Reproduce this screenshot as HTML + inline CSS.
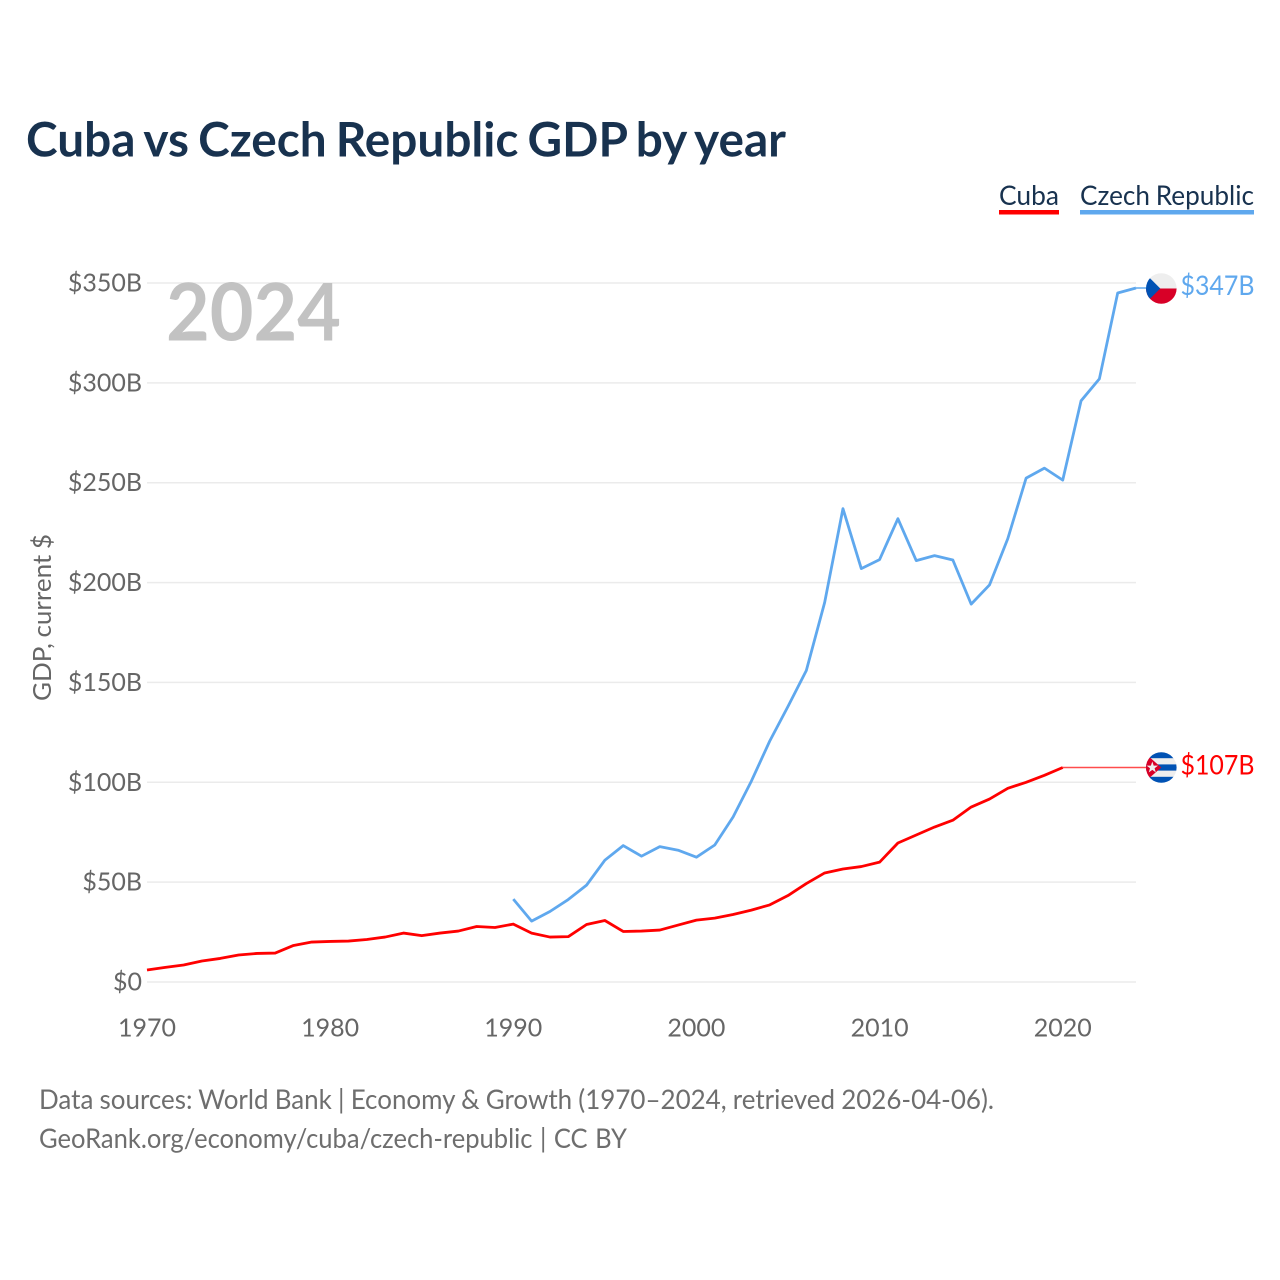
<!DOCTYPE html>
<html lang="en">
<head>
<meta charset="utf-8">
<title>Cuba vs Czech Republic GDP by year</title>
<style>
html,body{margin:0;padding:0;background:#fff;}
svg{display:block;}
text{font-family:"Lato","Carlito","Liberation Sans",sans-serif;}
</style>
</head>
<body>
<svg id="chart" xmlns="http://www.w3.org/2000/svg" width="1280" height="1280" viewBox="0 0 1280 1280">
  <defs>
    <clipPath id="flag-clip"><circle cx="0" cy="0" r="15.3"></circle></clipPath>
  </defs>
  <rect x="0" y="0" width="1280" height="1280" fill="#fff"></rect>
  <text x="26" y="156.5" font-size="47.5" font-weight="700" fill="#18324f" word-spacing="-2.5" textLength="760" lengthAdjust="spacingAndGlyphs">Cuba vs Czech Republic GDP by year</text>

  <g>
    <g>
      <text x="999" y="205" font-size="27" fill="#18324f" textLength="60" lengthAdjust="spacingAndGlyphs">Cuba</text>
      <rect x="999" y="210" width="60" height="4.5" fill="#ff0000"></rect>
    </g>
    <g>
      <text x="1080" y="205" font-size="27" fill="#18324f" word-spacing="-1" textLength="174" lengthAdjust="spacingAndGlyphs">Czech Republic</text>
      <rect x="1080" y="210" width="174" height="4.5" fill="#5fa8ee"></rect>
    </g>
  </g>

  <g id="grid"></g>
  <g id="yticks"></g>
  <g id="xticks"></g>

  <text transform="translate(51 701) rotate(-90)" x="0" y="0" font-size="25" fill="#666" word-spacing="-1" textLength="167" lengthAdjust="spacingAndGlyphs">GDP, current $</text>
  <text x="166" y="340.5" font-size="80" font-weight="700" fill="#c2c2c2" textLength="175" lengthAdjust="spacingAndGlyphs">2024</text>

  <g id="series"></g>

  <g id="flag-czech">
    <g clip-path="url(#flag-clip)">
      <rect x="-16" y="-16" width="32" height="16" fill="#eeeeee"></rect>
      <rect x="-16" y="0" width="32" height="16" fill="#d80027"></rect>
      <polygon points="-17,-16 -1,0 -17,16" fill="#0052b4"></polygon>
    </g>
  </g>
  <g id="flag-cuba">
    <g clip-path="url(#flag-clip)">
      <rect x="-16" y="-16" width="32" height="32" fill="#eeeeee"></rect>
      <rect x="-16" y="-16" width="32" height="6.7" fill="#0052b4"></rect>
      <rect x="-16" y="-3.1" width="32" height="6.2" fill="#0052b4"></rect>
      <rect x="-16" y="9.3" width="32" height="6.7" fill="#0052b4"></rect>
      <polygon points="-16,-14 0,0 -16,14" fill="#d80027"></polygon>
      <polygon points="-9,-6 -7.6,-1.9 -3.3,-1.9 -6.7,0.7 -5.5,4.9 -9,2.4 -12.5,4.9 -11.3,0.7 -14.7,-1.9 -10.4,-1.9" fill="#eeeeee"></polygon>
    </g>
  </g>

  <text id="label-czech" x="1180.5" y="295" font-size="27" fill="#5fa8ee" textLength="74" lengthAdjust="spacingAndGlyphs">$347B</text>
  <text id="label-cuba" x="1180.5" y="774" font-size="27" fill="#ff0000" textLength="74" lengthAdjust="spacingAndGlyphs">$107B</text>

  <text x="39" y="1109" font-size="27" fill="#6e6e6e" word-spacing="-0.5" textLength="955" lengthAdjust="spacingAndGlyphs">Data sources: World Bank | Economy &amp; Growth (1970–2024, retrieved 2026-04-06).</text>
  <text x="39" y="1148" font-size="27" fill="#6e6e6e" word-spacing="1" textLength="588" lengthAdjust="spacingAndGlyphs">GeoRank.org/economy/cuba/czech-republic | CC BY</text>
</svg>
<script>
const cubaStartYear = 1970;
const cubaValues = [6,7.3,8.5,10.5,11.8,13.5,14.3,14.5,18.3,20,20.3,20.5,21.3,22.5,24.5,23.2,24.5,25.5,27.8,27.3,29,24.5,22.5,22.7,28.8,30.8,25.3,25.5,26,28.5,31,32,33.8,36,38.6,43.3,49.3,54.6,56.6,57.8,60,69.6,73.6,77.6,81,87.6,91.6,97,100,103.5,107.4];
const czechStartYear = 1990;
const czechValues = [41.5,30.5,35.3,41.3,48.5,61,68.3,63,67.8,66,62.5,68.6,82.6,100.6,120.6,138,156,190,237,207,211.5,232,211,213.5,211.3,189.2,198.8,222,252.3,257.3,251.3,291,302,345,347.5];
const yTickValues = [0,50,100,150,200,250,300,350];
const yTickLabels = ['$0','$50B','$100B','$150B','$200B','$250B','$300B','$350B'];
const xTickYears = [1970,1980,1990,2000,2010,2020];

const NS = 'http://www.w3.org/2000/svg';
function xScale(year){ return 147 + (year - 1970) * (1136 - 147) / 54; }
function yScale(v){ return 982 - v * (982 - 283) / 350; }
function make(tag, attrs, parent, text){
  const el = document.createElementNS(NS, tag);
  for (const k in attrs) el.setAttribute(k, attrs[k]);
  if (text !== undefined) el.textContent = text;
  parent.appendChild(el);
  return el;
}
const grid = document.getElementById('grid');
const yticks = document.getElementById('yticks');
const xticks = document.getElementById('xticks');
const series = document.getElementById('series');

yTickValues.forEach(function(v, i){
  const line = make('line', {x1:147, x2:1136, y1:yScale(v), y2:yScale(v), stroke:'#ebebeb', 'stroke-width':1.5}, grid);
  
  
  const label = make('text', {x:142, y:yScale(v) + 8.5, 'text-anchor':'end', 'font-size':25, fill:'#666'}, yticks, yTickLabels[i]);
  
  
});
xTickYears.forEach(function(yr){
  const label = make('text', {x:xScale(yr), y:1036.5, 'text-anchor':'middle', 'font-size':25, fill:'#666'}, xticks, String(yr));
  
  
});

function pathFrom(values, start){
  return values.map(function(v, i){
    return (i ? 'L' : 'M') + xScale(start + i).toFixed(2) + ' ' + yScale(v).toFixed(2);
  }).join(' ');
}
const FLAG_X = 1161.3;
const cubaLast = cubaValues[cubaValues.length - 1];
const czechLast = czechValues[czechValues.length - 1];

const czechConn = make('line', {x1:xScale(czechStartYear + czechValues.length - 1), x2:FLAG_X, y1:yScale(czechLast), y2:yScale(czechLast), stroke:'#5fa8ee', 'stroke-width':1.5}, series);


const cubaConn = make('line', {x1:xScale(cubaStartYear + cubaValues.length - 1), x2:FLAG_X, y1:yScale(cubaLast), y2:yScale(cubaLast), stroke:'#ff0000', 'stroke-width':1.5, 'stroke-opacity':0.7}, series);



const czechLine = make('path', {d:pathFrom(czechValues, czechStartYear), fill:'none', stroke:'#5fa8ee', 'stroke-width':2.8, 'stroke-linejoin':'round'}, series);


const cubaLine = make('path', {d:pathFrom(cubaValues, cubaStartYear), fill:'none', stroke:'#ff0000', 'stroke-width':2.8, 'stroke-linejoin':'round'}, series);



document.getElementById('flag-czech').setAttribute('transform', 'translate(' + FLAG_X + ' ' + (yScale(czechLast) + 0.5) + ')');
document.getElementById('flag-cuba').setAttribute('transform', 'translate(' + FLAG_X + ' ' + yScale(cubaLast) + ')');
document.getElementById('label-czech').setAttribute('y', yScale(czechLast) + 7);
document.getElementById('label-cuba').setAttribute('y', yScale(cubaLast) + 7);
</script>
</body>
</html>
